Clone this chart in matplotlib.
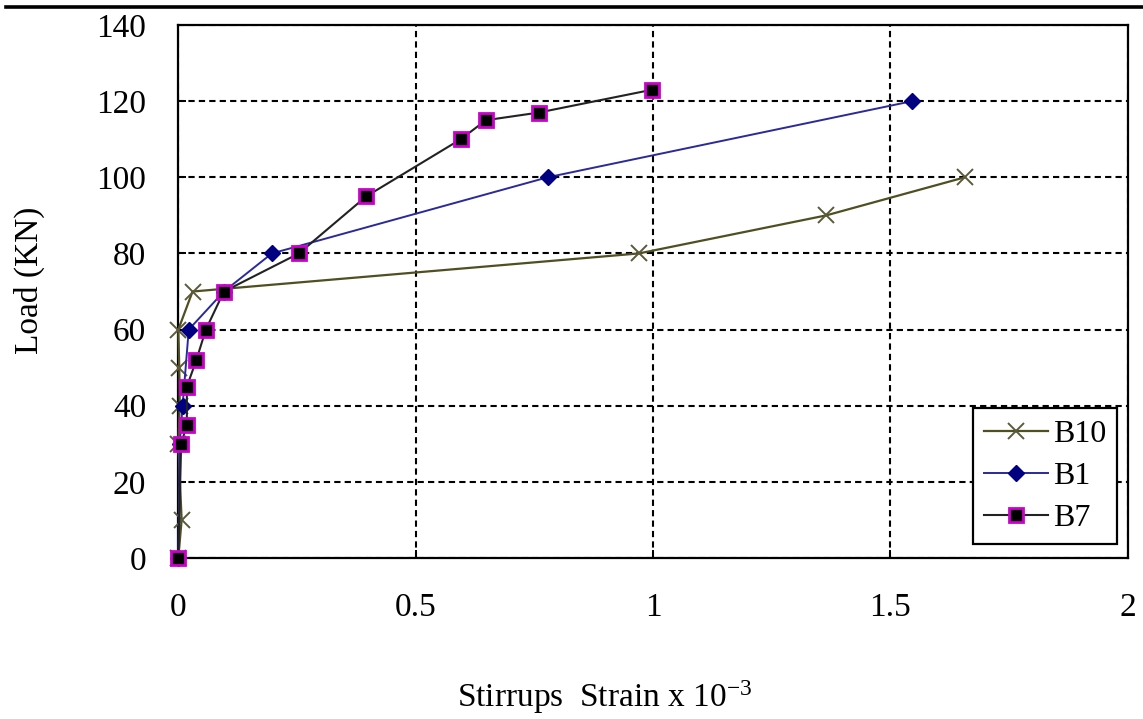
import matplotlib
matplotlib.use("Agg")
import matplotlib.pyplot as plt
from matplotlib.lines import Line2D

# data (strain x 1e-3, load in kN)
b10_strain = [0, 0.007, 0.0, 0.003, 0.002, 0.0, 0.03, 0.97, 1.365, 1.657]
b10_load = [0, 10, 30, 40, 50, 60, 70, 80, 90, 100]

b1_strain = [0, 0.003, 0.009, 0.022, 0.096, 0.197, 0.778, 1.546]
b1_load = [0, 30, 40, 60, 70, 80, 100, 120]

b7_strain = [0, 0.006, 0.018, 0.018, 0.038, 0.058, 0.096, 0.254, 0.396, 0.595, 0.648, 0.759, 0.998]
b7_load = [0, 30, 35, 45, 52, 60, 70, 80, 95, 110, 115, 117, 123]

x_ticks = [0, 0.5, 1, 1.5, 2]
x_tick_labels = ["0", "0.5", "1", "1.5", "2"]
y_ticks = [0, 20, 40, 60, 80, 100, 120, 140]

plt.rcParams["font.family"] = ["Liberation Serif", "DejaVu Serif"]

fig = plt.figure(figsize=(11.43, 7.19), dpi=100)
ax = fig.add_axes([0.156, 0.2239, 0.8306, 0.7413])

ax.plot(b10_strain, b10_load, color="#4f4f22", lw=1.6, marker="x",
        markersize=12, markeredgewidth=1.4, markeredgecolor="#5a5a3a",
        label="B10", zorder=3, clip_on=False)
ax.plot(b1_strain, b1_load, color="#2a2a9a", lw=1.4, marker="D",
        markersize=8, markerfacecolor="#000080", markeredgecolor="#000080",
        label="B1", zorder=4, clip_on=False)
ax.plot(b7_strain, b7_load, color="#222222", lw=1.5, marker="s",
        markersize=10, markerfacecolor="black", markeredgecolor="#cc00cc",
        markeredgewidth=2, label="B7", zorder=5, clip_on=False)

ax.set_xlim(0, 2)
ax.set_ylim(0, 140)
ax.set_xticks(x_ticks)
ax.set_xticklabels(x_tick_labels)
ax.set_yticks(y_ticks)

ax.grid(True, color="black", linestyle=(0, (3, 2)), lw=1.5)
ax.set_axisbelow(True)
for s in ax.spines.values():
    s.set_linewidth(1.6)
    s.set_color("black")

ax.tick_params(axis="both", direction="in", length=6, width=1.4, labelsize=24)
ax.tick_params(axis="y", pad=23)
ax.tick_params(axis="x", pad=25)

leg = ax.legend(loc="lower right", bbox_to_anchor=(0.989, 0.026), borderaxespad=0,
                fontsize=23, frameon=True, fancybox=False, edgecolor="black",
                framealpha=1, handlelength=2.0, handletextpad=0.15,
                labelspacing=0.4, borderpad=0.35)
leg.get_frame().set_linewidth(1.6)
leg.set_zorder(10)

fig.text(29 / 1143, 1 - 280 / 719, "Load (KN)", rotation=90, ha="center",
         va="center", fontsize=24)
fig.text(605 / 1143, 1 - 707 / 719, r"Stirrups  Strain x $\mathregular{10^{-3}}$",
         ha="center", va="baseline", fontsize=24)

# thick rule across the top of the image
fig.add_artist(Line2D([6 / 1143, 1.0], [1 - 6.5 / 719, 1 - 6.5 / 719],
                      transform=fig.transFigure, color="black", lw=2.6))

fig.savefig("out.png", dpi=100)
